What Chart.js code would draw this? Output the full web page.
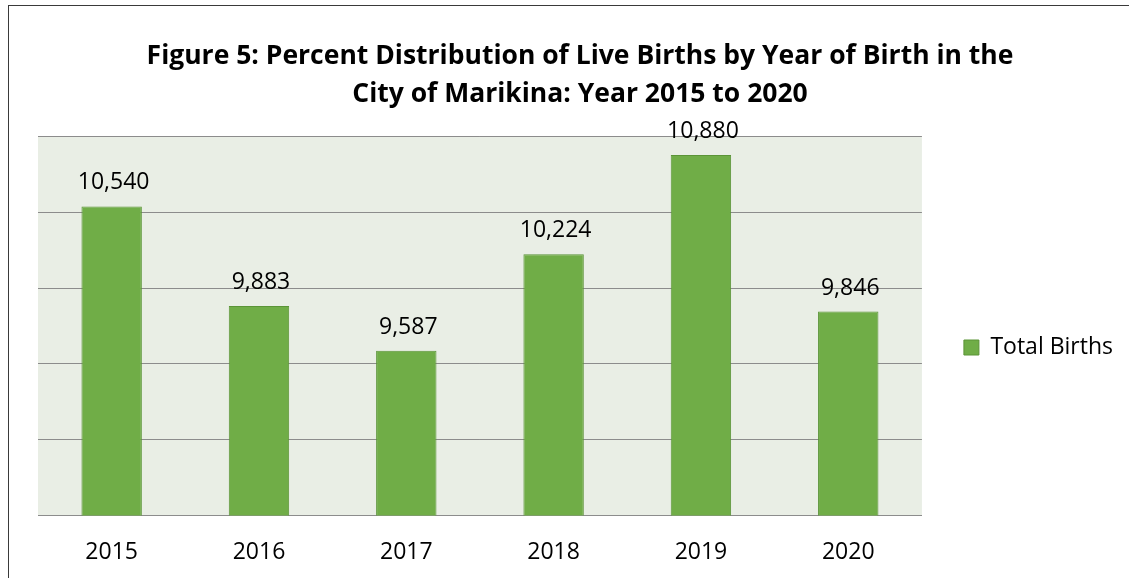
<!DOCTYPE html>
<html>
<head>
<meta charset="utf-8">
<script src="https://cdn.jsdelivr.net/npm/chart.js@4"></script>
<style>
  html, body { margin: 0; padding: 0; background: #ffffff; overflow: hidden; }
  body { width: 1129px; height: 578px; position: relative; }
  /* page frame: only top and left edges are visible in the shot */
  .frame {
    position: absolute; left: 8px; top: 5px; width: 1300px; height: 800px;
    border-top: 1px solid #3a3a3a; border-left: 1px solid #3a3a3a;
  }
  .chart-wrap { position: absolute; left: 9px; top: 6px; width: 1144px; height: 600px; }
</style>
</head>
<body>
<div class="frame"></div>
<div class="chart-wrap"><canvas id="births"></canvas></div>

<script>
// --- Data ---
const years       = ['2015', '2016', '2017', '2018', '2019', '2020'];
const totalBirths = [10540, 9883, 9587, 10224, 10880, 9846];
const seriesLabel = 'Total Births';
const titleLines  = [
  'Figure 5: Percent Distribution of Live Births by Year of Birth in the',
  'City of Marikina: Year 2015 to 2020',
];
const axisMin  = 8500;
const axisMax  = 11000;
const axisStep = 500;

// --- Palette ---
const COLORS = {
  bar:       '#70ad47',
  barBorder: '#5b9437',
  plotBg:    '#e9eee5',
  grid:      '#8c8c8c',
  text:      '#000000',
};
const FONT = "'Open Sans', 'Noto Sans', sans-serif";

// --- Plot background fill (Excel style tinted plot area) ---
const plotBackground = {
  id: 'plotBackground',
  beforeDraw(chart) {
    const { ctx, chartArea: a } = chart;
    ctx.save();
    ctx.fillStyle = COLORS.plotBg;
    ctx.fillRect(a.left, a.top, a.right - a.left, a.bottom - a.top);
    ctx.restore();
  },
};

// --- Value labels above each bar ---
const valueLabels = {
  id: 'valueLabels',
  afterDatasetsDraw(chart) {
    const { ctx } = chart;
    const meta = chart.getDatasetMeta(0);
    ctx.save();
    ctx.font = `23px ${FONT}`;
    ctx.fillStyle = COLORS.text;
    ctx.textAlign = 'center';
    ctx.textBaseline = 'alphabetic';
    meta.data.forEach((bar, i) => {
      const v = chart.data.datasets[0].data[i];
      ctx.fillText(v.toLocaleString('en-US'), bar.x + 2, bar.y - 17);
    });
    ctx.restore();
  },
};

new Chart(document.getElementById('births'), {
  type: 'bar',
  data: {
    labels: years,
    datasets: [{
      label: seriesLabel,
      data: totalBirths,
      backgroundColor: COLORS.bar,
      borderColor: COLORS.barBorder,
      borderWidth: 1,
      categoryPercentage: 1,
      barPercentage: 0.41,
    }],
  },
  options: {
    responsive: true,
    maintainAspectRatio: false,
    animation: false,
    layout: { padding: { left: 28, right: 30, top: 0, bottom: 17 } },
    plugins: {
      title: {
        display: true,
        text: titleLines,
        color: COLORS.text,
        font: { family: FONT, size: 26.5, weight: 'bold', lineHeight: 1.43 },
        padding: { top: 32, bottom: 23 },
      },
      legend: {
        position: 'right',
        // blank legend title only pushes the single entry down to mid-plot
        title: { display: true, text: ' ', font: { size: 10, lineHeight: 1 }, padding: 45 },
        labels: {
          color: COLORS.text,
          font: { family: FONT, size: 23 },
          boxWidth: 15,
          boxHeight: 15,
          padding: 42,
        },
      },
      tooltip: { enabled: false },
    },
    scales: {
      x: {
        grid: { display: false, drawTicks: false },
        border: { display: true, color: COLORS.grid, width: 1 },
        ticks: { color: COLORS.text, font: { family: FONT, size: 23 }, padding: 23 },
      },
      y: {
        min: axisMin,
        max: axisMax,
        ticks: { display: false, stepSize: axisStep },
        grid: { color: COLORS.grid, lineWidth: 1, drawTicks: false },
        border: { display: false },
        afterFit: axis => { axis.width = 1; },
      },
    },
  },
  plugins: [plotBackground, valueLabels],
});
</script>
</body>
</html>
